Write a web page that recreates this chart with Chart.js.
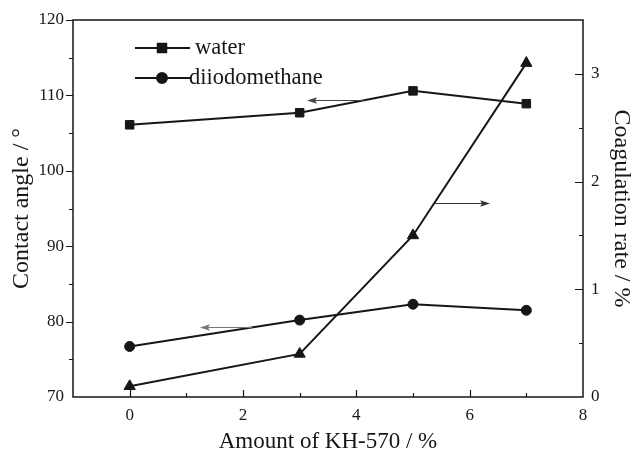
<!DOCTYPE html>
<html>
<head>
<meta charset="utf-8">
<script src="https://cdn.jsdelivr.net/npm/chart.js@4.4.1/dist/chart.umd.min.js"></script>
<style>
  html, body { margin: 0; padding: 0; background: #fff; }
  #wrap { width: 638px; height: 452px; }
</style>
</head>
<body>
<div id="wrap"><canvas id="c" width="638" height="452"></canvas></div>
<script>
// KH-570 loading (%) and the measured properties
const kh570Amount = [0, 3, 5, 7];
const waterAngle = [106.1, 107.7, 110.6, 108.9];
const diiodomethaneAngle = [76.7, 80.2, 82.3, 81.5];
const coagulationRate = [0.1, 0.4, 1.5, 3.1];

// Axis ranges and labelled ticks
const xTickLabels = [0, 2, 4, 6, 8];
const angleTickLabels = [70, 80, 90, 100, 110, 120];
const rateTickLabels = [0, 1, 2, 3];

// Arrows telling which axis each curve belongs to: [xFrom, xTo, y, axis, colour]
const axisArrows = [
  [4.15, 3.13, 109.4, 'y', '#444'],
  [2.16, 1.24, 79.3, 'y', '#777'],
  [5.39, 6.36, 1.80, 'y1', '#333']
];

const INK = '#161616';
const SERIF = "'Liberation Serif', 'Times New Roman', serif";

const toPoints = (xs, ys) => xs.map((x, i) => ({ x, y: ys[i] }));

// Draws the frame, the tick marks (left outward, bottom/right inward),
// the axis arrows and the legend.
const decorations = {
  id: 'decorations',
  afterDatasetsDraw(chart) {
    const { ctx, chartArea: a, scales } = chart;
    const sx = scales.x, sy = scales.y, sr = scales.y1;
    ctx.save();
    ctx.strokeStyle = INK;
    ctx.lineWidth = 1.5;
    ctx.strokeRect(a.left, a.top, a.right - a.left, a.bottom - a.top);

    ctx.lineWidth = 1.2;
    ctx.beginPath();
    for (let v = 0; v <= 7; v++) {
      const px = Math.round(sx.getPixelForValue(v)) + 0.5;
      const len = v % 2 === 0 ? 7 : 4;
      ctx.moveTo(px, a.bottom);
      ctx.lineTo(px, a.bottom - len);
    }
    for (let v = 75; v < 120; v += 5) {
      const py = Math.round(sy.getPixelForValue(v)) + 0.5;
      const len = v % 10 === 0 ? 7 : 4;
      ctx.moveTo(a.left, py);
      ctx.lineTo(a.left - len, py);
    }
    ctx.moveTo(a.left, a.top + 0.5);
    ctx.lineTo(a.left - 7, a.top + 0.5);
    for (let v = 0.5; v <= 3; v += 0.5) {
      const py = Math.round(sr.getPixelForValue(v)) + 0.5;
      const len = Number.isInteger(v) ? 8 : 4;
      ctx.moveTo(a.right, py);
      ctx.lineTo(a.right - len, py);
    }
    ctx.stroke();

    // arrows
    axisArrows.forEach(([x0, x1, yv, axis, color]) => {
      const scaleY = scales[axis];
      const p0 = sx.getPixelForValue(x0);
      const p1 = sx.getPixelForValue(x1);
      const py = Math.round(scaleY.getPixelForValue(yv)) + 0.5;
      const dir = Math.sign(p1 - p0);
      ctx.strokeStyle = color;
      ctx.fillStyle = color;
      ctx.lineWidth = 1.2;
      ctx.beginPath();
      ctx.moveTo(p0, py);
      ctx.lineTo(p1 - dir * 6, py);
      ctx.stroke();
      ctx.beginPath();
      ctx.moveTo(p1, py);
      ctx.lineTo(p1 - dir * 10, py - 3.2);
      ctx.lineTo(p1 - dir * 8, py);
      ctx.lineTo(p1 - dir * 10, py + 3.2);
      ctx.closePath();
      ctx.fill();
    });

    // legend
    const legendRows = [
      ['water', 'rect', 6, 48, 195],
      ['diiodomethane', 'circle', 5, 78, 189]
    ];
    ctx.font = '22.5px ' + SERIF;
    ctx.textBaseline = 'middle';
    ctx.textAlign = 'left';
    legendRows.forEach(([label, style, r, y, tx]) => {
      ctx.strokeStyle = INK;
      ctx.fillStyle = INK;
      ctx.lineWidth = 2;
      ctx.beginPath();
      ctx.moveTo(135, y);
      ctx.lineTo(190, y);
      ctx.stroke();
      Chart.helpers.drawPoint(ctx, { pointStyle: style, radius: r, rotation: 0, borderWidth: 1 }, 162, y);
      ctx.fillStyle = INK;
      ctx.fillText(label, tx, y);
    });
    ctx.restore();
  }
};

const lineStyle = {
  borderColor: INK,
  backgroundColor: INK,
  pointBorderColor: INK,
  pointBackgroundColor: INK,
  borderWidth: 2,
  tension: 0,
  pointBorderWidth: 1
};

new Chart(document.getElementById('c'), {
  type: 'line',
  data: {
    datasets: [
      { ...lineStyle, label: 'water', data: toPoints(kh570Amount, waterAngle), yAxisID: 'y', pointStyle: 'rect', pointRadius: 6 },
      { ...lineStyle, label: 'diiodomethane', data: toPoints(kh570Amount, diiodomethaneAngle), yAxisID: 'y', pointStyle: 'circle', pointRadius: 5 },
      { ...lineStyle, label: 'coagulation rate', data: toPoints(kh570Amount, coagulationRate), yAxisID: 'y1', pointStyle: 'triangle', pointRadius: 6.5 }
    ]
  },
  options: {
    responsive: false,
    animation: false,
    layout: { padding: { top: 20, left: 0, right: 0, bottom: 0 } },
    plugins: { legend: { display: false }, tooltip: { enabled: false } },
    scales: {
      x: {
        type: 'linear',
        min: -1,
        max: 8,
        afterFit(s) { s.height = 55; },
        afterBuildTicks(s) { s.ticks = xTickLabels.map(v => ({ value: v })); },
        grid: { display: false },
        border: { display: false },
        ticks: { color: INK, font: { family: SERIF, size: 17 }, padding: 0, maxRotation: 0 },
        title: { display: true, text: 'Amount of KH-570 / %', color: INK, font: { family: SERIF, size: 23, lineHeight: 0.9 }, padding: { top: 0, bottom: 0 } }
      },
      y: {
        type: 'linear',
        position: 'left',
        min: 70,
        max: 120,
        afterFit(s) { s.width = 73; },
        afterBuildTicks(s) { s.ticks = angleTickLabels.map(v => ({ value: v })); },
        grid: { display: false },
        border: { display: false },
        ticks: { color: INK, font: { family: SERIF, size: 17 }, padding: 1 },
        title: { display: true, text: 'Contact angle / °', color: INK, font: { family: SERIF, size: 24 }, padding: { top: 7, bottom: 0 } }
      },
      y1: {
        type: 'linear',
        position: 'right',
        min: 0,
        max: 3.5,
        afterFit(s) { s.width = 55; },
        afterBuildTicks(s) { s.ticks = rateTickLabels.map(v => ({ value: v })); },
        grid: { display: false },
        border: { display: false },
        ticks: { color: INK, font: { family: SERIF, size: 17 }, padding: 0 },
        title: { display: true, text: 'Coagulation rate / %', color: INK, font: { family: SERIF, size: 24 }, padding: { top: 2, bottom: 0 } }
      }
    }
  },
  plugins: [decorations]
});
</script>
</body>
</html>
